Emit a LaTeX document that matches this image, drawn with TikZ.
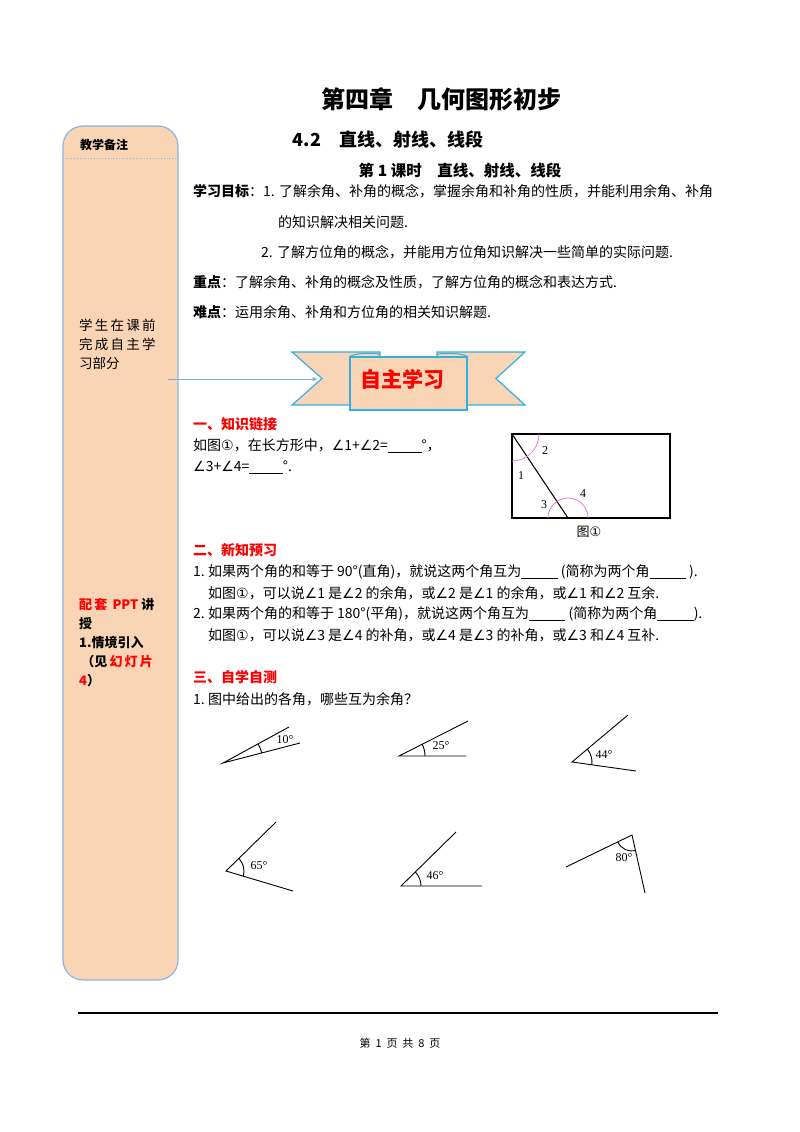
\documentclass[tikz,border=0pt]{standalone}
\usepackage{fontspec}
\setmainfont{Liberation Serif}
\newfontfamily\cjk{Noto Sans CJK SC}
\newfontfamily\sym{DejaVu Sans}
\newfontfamily\tms{Liberation Serif}
\definecolor{peach}{HTML}{F9D5B6}
\definecolor{sideblue}{HTML}{8EB4E3}
\definecolor{cyanb}{HTML}{33B0E0}
\definecolor{redt}{HTML}{FF0000}
\definecolor{arcm}{HTML}{E879E8}
\begin{document}
\begin{tikzpicture}[x=1pt,y=-1pt,
  txt/.style={anchor=west,inner sep=0pt,font=\cjk\fontsize{14}{16}\selectfont},
  head/.style={anchor=west,inner sep=0pt,font=\cjk\bfseries\fontsize{14}{16}\selectfont,text=redt},
  lbl/.style={inner sep=0pt,font=\tms\fontsize{12}{14}\selectfont},
  ray/.style={line width=0.9pt}]
\useasboundingbox (0,0) rectangle (800,1132);
% sidebar
\draw[sideblue,fill=peach,line width=1.2pt,rounded corners=20pt] (63,126) rectangle (178,980);
\draw[sideblue,dotted,line width=0.8pt] (63,158) -- (180,158);
\node[anchor=west,inner sep=0pt,font=\cjk\bfseries\fontsize{12}{14}\selectfont] (sb1) at (80,145) {教学备注};
\node[anchor=north west,inner sep=0pt,align=left,font=\cjk\fontsize{13.5}{19}\selectfont] (sb2) at (79,319) {学\,生\,在\,课\,前\\完\,成\,自\,主\,学\\习部分};
\node[anchor=north west,inner sep=0pt,align=left,font=\cjk\bfseries\fontsize{13}{19}\selectfont] (sb3) at (79,598) {\textcolor{redt}{配\,套\, PPT} 讲\\授\\1.情境引入\\\,（见\,\textcolor{redt}{幻\,灯\,片}\\\textcolor{redt}{4}）};
% titles
\node[inner sep=0pt,font=\cjk\bfseries\fontsize{24}{26}\selectfont] (t1) at (441,99) {第四章\quad 几何图形初步};
\node[inner sep=0pt,font=\cjk\bfseries\fontsize{18}{20}\selectfont] (t2) at (388,140) {4.2\quad 直线、射线、线段};
\node[inner sep=0pt,font=\cjk\bfseries\fontsize{15.5}{18}\selectfont] (t3) at (460,171) {第 1 课时\quad 直线、射线、线段};
\node[txt] (g1) at (193,191) {\textbf{学习目标}：1. 了解余角、补角的概念，掌握余角和补角的性质，并能利用余角、补角};
\node[txt] (g2) at (278,222) {的知识解决相关问题.};
\node[txt] (g3) at (261,252) {2. 了解方位角的概念，并能用方位角知识解决一些简单的实际问题.};
\node[txt] (g4) at (193,282) {\textbf{重点}：了解余角、补角的概念及性质，了解方位角的概念和表达方式.};
\node[txt] (g5) at (193,312) {\textbf{难点}：运用余角、补角和方位角的相关知识解题.};
% banner
\draw[cyanb,fill=peach,line width=1.2pt] (292,352) -- (380,352) -- (380,405) -- (292,405) -- (322,378.5) -- cycle;
\draw[cyanb,fill=peach,line width=1.2pt] (525,352) -- (437,352) -- (437,405) -- (525,405) -- (496,378.5) -- cycle;
\draw[cyanb,fill=peach,line width=1.2pt] (350,357) rectangle (467,410);
\draw[cyanb,line width=1pt] (350,357) .. controls (350,353) and (380,352) .. (380,355);
\draw[cyanb,line width=1pt] (467,357) .. controls (467,353) and (437,352) .. (437,355);
\node[inner sep=0pt,font=\cjk\bfseries\fontsize{21}{23}\selectfont,text=redt] (bn) at (402,379) {自主学习};
\coordinate (arrS) at (168,379);
\draw[-latex,sideblue!80!gray,line width=0.9pt] (arrS) -- (318,379);
% section 1
\node[head] (h1) at (193,424) {一、知识链接};
\node[txt] (k1) at (193,446) {如图{\sym ①}，在长方形中，{\sym ∠}1+{\sym ∠}2=\underline{\hspace{2.4em}}°，};
\node[txt] (k2) at (193,467) {{\sym ∠}3+{\sym ∠}4=\underline{\hspace{2.4em}}°.};
% figure 1
\coordinate (A) at (512,434); \coordinate (B) at (670,434);
\coordinate (C) at (670,518); \coordinate (D) at (512,518); \coordinate (E) at (568,518);
\draw[line width=1.1pt] (A) -- (B) -- (C) -- (D) -- cycle;
\draw[line width=1.1pt] (A) -- (E);
\draw[arcm,line width=0.8pt] (512,461) arc[start angle=90,end angle=0,radius=27];
\draw[arcm,line width=0.8pt] (588,518) arc[start angle=0,end angle=-180,radius=20];
\node[lbl] (n1) at (521,476) {1};
\node[lbl] (n2) at (545,451) {2};
\node[lbl] (n3) at (544,505) {3};
\node[lbl] (n4) at (583,494) {4};
\node[inner sep=0pt,font=\cjk\fontsize{13}{15}\selectfont] (fig) at (589,532) {图{\sym ①}};
% section 2
\node[head] (h2) at (193,550) {二、新知预习};
\node[txt] (p1) at (193,572) {1.\ 如果两个角的和等于 90°(直角)，就说这两个角互为\underline{\hspace{2.6em}}\ (简称为两个角\underline{\hspace{2.6em}}\ ).};
\node[txt] (p2) at (208,593) {如图{\sym ①}，可以说{\sym ∠}1 是{\sym ∠}2 的余角，或{\sym ∠}2 是{\sym ∠}1 的余角，或{\sym ∠}1 和{\sym ∠}2 互余.};
\node[txt] (p3) at (193,614) {2.\ 如果两个角的和等于 180°(平角)，就说这两个角互为\underline{\hspace{2.6em}}\ (简称为两个角\underline{\hspace{2.6em}}).};
\node[txt] (p4) at (208,635) {如图{\sym ①}，可以说{\sym ∠}3 是{\sym ∠}4 的补角，或{\sym ∠}4 是{\sym ∠}3 的补角，或{\sym ∠}3 和{\sym ∠}4 互补.};
% section 3
\node[head] (h3) at (193,677) {三、自学自测};
\node[txt] (q1) at (193,699) {1.\ 图中给出的各角，哪些互为余角？};
% angles (y axis points down: angles negated)
\coordinate (v1) at (223,763);
\draw[ray] (289,727) -- (v1) -- (300,743);
\draw[ray] (v1) ++(-14.6:40) arc[start angle=-14.6,end angle=-28.6,radius=40];
\node[lbl] (a1) at (285,740) {10°};
\coordinate (v2) at (399,756);
\draw[ray] (468,721) -- (v2) -- (466,756);
\draw[ray] (v2) ++(-27:26) arc[start angle=-27,end angle=0,radius=26];
\node[lbl] (a2) at (441,746) {25°};
\coordinate (v3) at (572,762);
\draw[ray] (628,715) -- (v3) -- (636,771);
\draw[ray] (v3) ++(-40:20) arc[start angle=-40,end angle=8,radius=20];
\node[lbl] (a3) at (604,755) {44°};
\coordinate (v4) at (226,871);
\draw[ray] (276,822) -- (v4) -- (293,891);
\draw[ray] (v4) ++(-44:18) arc[start angle=-44,end angle=17,radius=18];
\node[lbl] (a4) at (259,866) {65°};
\coordinate (v5) at (401,886);
\draw[ray] (456,832) -- (v5) -- (482,886);
\draw[ray] (v5) ++(-44.5:20) arc[start angle=-44.5,end angle=0,radius=20];
\node[lbl] (a5) at (435,876) {46°};
\coordinate (v6) at (632,835);
\draw[ray] (566,867) -- (v6) -- (645,893);
\draw[ray] (v6) ++(154.1:16) arc[start angle=154.1,end angle=77.4,radius=16];
\node[lbl] (a6) at (624,858) {80°};
% footer
\draw[line width=1.2pt] (78,1013) -- (718,1013);
\node[inner sep=0pt,font=\cjk\fontsize{11}{13}\selectfont] (ft) at (400,1043) {第\ \ 1\ \ 页\ \ 共\ \ 8\ \ 页};
\end{tikzpicture}
\end{document}
